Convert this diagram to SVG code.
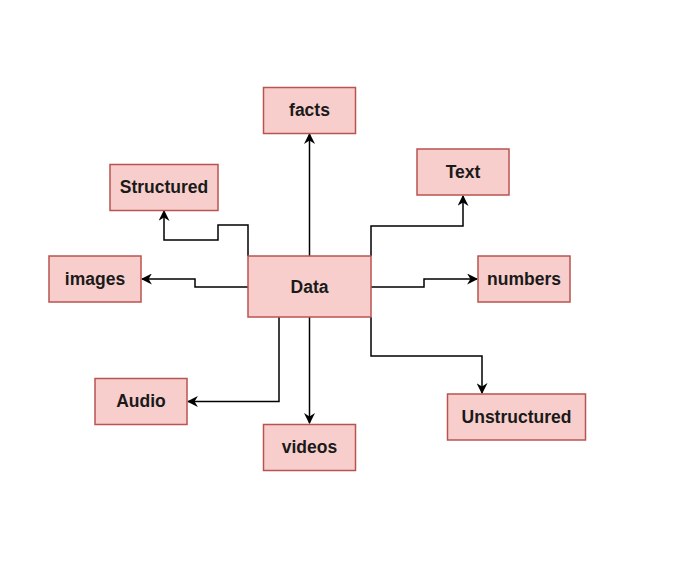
<svg xmlns="http://www.w3.org/2000/svg" width="700" height="570" viewBox="0 0 700 570">
<style>
.n rect{fill:#f8cecc;stroke:#b85450;stroke-width:1.5}
.n text{font-family:"Liberation Sans",Arial,sans-serif;font-weight:bold;font-size:17.5px;fill:#1a1a1a;text-anchor:middle;dominant-baseline:central}
.c path{fill:none;stroke:#000;stroke-width:1.5}
</style>
<defs>
<marker id="a" viewBox="0 0 10 10" refX="9" refY="5" markerWidth="11" markerHeight="11" markerUnits="userSpaceOnUse" orient="auto">
<path d="M0,0 L10,5 L0,10 L3,5 Z" fill="#000"/>
</marker>
</defs>
<rect width="700" height="570" fill="#fff"/>
<g class="c">
<path d="M309.5,256 L309.5,134" marker-end="url(#a)"/>
<path d="M248,256 L248,225 L218,225 L218,240 L164,240 L164,211" marker-end="url(#a)"/>
<path d="M371,256 L371,226 L463,226 L463,196" marker-end="url(#a)"/>
<path d="M371,287 L424,287 L424,279 L477,279" marker-end="url(#a)"/>
<path d="M248,287 L195,287 L195,279 L142,279" marker-end="url(#a)"/>
<path d="M279,317 L279,401.5 L188,401.5" marker-end="url(#a)"/>
<path d="M309.5,317 L309.5,423" marker-end="url(#a)"/>
<path d="M371,317 L371,356 L482,356 L482,393" marker-end="url(#a)"/>
</g>
<g id="data" class="n"><rect x="248" y="256" width="123" height="61"/><text x="309.5" y="286.5">Data</text></g>
<g id="facts" class="n"><rect x="263.5" y="87.5" width="92" height="46"/><text x="309.5" y="110">facts</text></g>
<g id="structured" class="n"><rect x="110" y="164.5" width="108" height="46"/><text x="164" y="187">Structured</text></g>
<g id="text" class="n"><rect x="417" y="149" width="92" height="46"/><text x="463" y="171.5">Text</text></g>
<g id="numbers" class="n"><rect x="478" y="256" width="92" height="46"/><text x="524" y="278.5">numbers</text></g>
<g id="images" class="n"><rect x="49" y="256" width="92" height="46"/><text x="95" y="278.5">images</text></g>
<g id="audio" class="n"><rect x="95" y="378.5" width="92" height="46"/><text x="141" y="401">Audio</text></g>
<g id="videos" class="n"><rect x="263.5" y="424.5" width="92" height="46"/><text x="309.5" y="447">videos</text></g>
<g id="unstructured" class="n"><rect x="447.5" y="394" width="138" height="46"/><text x="516.5" y="416.5">Unstructured</text></g>
</svg>
